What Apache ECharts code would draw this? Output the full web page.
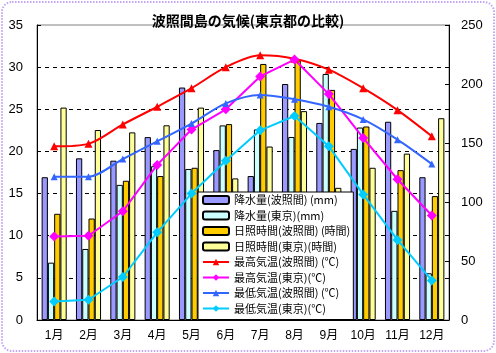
<!DOCTYPE html>
<html><head><meta charset="utf-8">
<script src="https://cdn.jsdelivr.net/npm/echarts@6/dist/echarts.min.js"></script>
<style>html,body{margin:0;padding:0;background:#fff}#c{width:496px;height:353px}</style>
</head><body><div id="c"></div>
<script>
var months = ['1月','2月','3月','4月','5月','6月','7月','8月','9月','10月','11月','12月'];
var rainHateruma = [121, 137, 135, 155, 197, 144, 122, 200, 167, 145, 168, 121];
var rainTokyo = [48.6, 60.2, 114.5, 130.3, 128.0, 164.9, 161.5, 155.1, 208.5, 163.1, 92.5, 39.6];
var sunHateruma = [90, 86, 118, 122, 129, 166, 217, 220, 195, 164, 127, 105];
var sunTokyo = [180, 161, 159, 165, 180, 120, 147, 177, 112, 129, 141, 171];
var maxHateruma = [20.6, 20.9, 23.2, 25.3, 27.5, 30.0, 31.4, 31.0, 29.7, 27.5, 24.9, 21.8];
var maxTokyo = [9.9, 10.0, 12.9, 18.4, 22.6, 25.0, 28.9, 30.9, 26.8, 21.6, 16.7, 12.4];
var minHateruma = [17.0, 17.0, 19.1, 21.2, 23.3, 25.7, 26.7, 26.2, 25.3, 23.8, 21.4, 18.5];
var minTokyo = [2.2, 2.4, 5.1, 10.4, 15.0, 18.9, 22.5, 24.2, 20.6, 14.9, 9.5, 4.7];
var leftTicks = [0, 35, 5];
var rightTicks = [0, 250, 50];

var FONT = '"Liberation Sans", "Noto Sans CJK JP", sans-serif';
var chart = echarts.init(document.getElementById('c'), null, {renderer: 'canvas'});
function bar(name, data, color) {
  return {name: name, type: 'bar', yAxisIndex: 1, data: data, barGap: '0%', barCategoryGap: '27%',
    itemStyle: {color: color, borderColor: '#000', borderWidth: 1}, z: 2};
}
function line(name, data, color, sym, size, smooth) {
  return {name: name, type: 'line', yAxisIndex: 0, data: data, smooth: smooth,
    symbol: sym, symbolSize: size, showAllSymbol: true,
    lineStyle: {color: color, width: 2}, itemStyle: {color: color}, z: 3};
}
chart.setOption({
  animation: false,
  backgroundColor: '#fff',
  textStyle: {fontFamily: FONT},
  title: {text: '波照間島の気候(東京都の比較)', left: 'center', top: 9,
    textStyle: {fontSize: 14, fontWeight: 'bold', color: '#000', fontFamily: '"Noto Sans CJK JP", sans-serif'}},
  graphic: [{type: 'rect', shape: {x: 2, y: 2, width: 492, height: 349, r: 10},
    style: {fill: 'none', stroke: '#c4a6f2', lineWidth: 2, lineDash: [1.5, 1.5]}, z: 10}],
  grid: {left: 37, right: 47, top: 25, bottom: 33, show: true, borderColor: '#808080', borderWidth: 1, backgroundColor: 'transparent'},
  legend: {orient: 'vertical', left: 198, top: 192, itemWidth: 26, itemHeight: 8, itemGap: 3.5,
    padding: [2, 3, 5, 4], backgroundColor: '#fff', borderColor: '#000', borderWidth: 1,
    textStyle: {fontSize: 11, color: '#000', lineHeight: 12, fontFamily: '"Noto Sans CJK JP", sans-serif'},
    data: ['降水量(波照間) (mm)','降水量(東京)(mm)','日照時間(波照間) (時間)','日照時間(東京)(時間)',
      '最高気温(波照間) (℃)','最高気温(東京)(℃)','最低気温(波照間) (℃)','最低気温(東京)(℃)']},
  xAxis: {type: 'category', data: months, boundaryGap: true,
    axisLine: {lineStyle: {color: '#000', width: 1}},
    axisTick: {inside: true, length: 4, lineStyle: {color: '#000'}},
    axisLabel: {color: '#000', fontSize: 12, margin: 10}},
  yAxis: [
    {type: 'value', min: leftTicks[0], max: leftTicks[1], interval: leftTicks[2], position: 'left',
      axisLine: {show: true, lineStyle: {color: '#000'}},
      axisTick: {show: true, inside: true, length: 4, lineStyle: {color: '#000'}},
      axisLabel: {color: '#000', fontSize: 13, margin: 14},
      splitLine: {show: true, showMinLine: false, showMaxLine: false, lineStyle: {color: '#000', type: [4, 4]}}},
    {type: 'value', min: rightTicks[0], max: rightTicks[1], interval: rightTicks[2], position: 'right',
      axisLine: {show: true, lineStyle: {color: '#000'}},
      axisTick: {show: true, inside: true, length: 4, lineStyle: {color: '#000'}},
      axisLabel: {color: '#000', fontSize: 13, margin: 12},
      splitLine: {show: false}}
  ],
  series: [
    bar('降水量(波照間) (mm)', rainHateruma, '#9999ff'),
    bar('降水量(東京)(mm)', rainTokyo, '#ccffff'),
    bar('日照時間(波照間) (時間)', sunHateruma, '#ffcc00'),
    bar('日照時間(東京)(時間)', sunTokyo, '#ffff99'),
    line('最高気温(波照間) (℃)', maxHateruma, '#ff0000', 'triangle', 8, 0.3),
    line('最高気温(東京)(℃)', maxTokyo, '#ff00ff', 'diamond', 10, false),
    line('最低気温(波照間) (℃)', minHateruma, '#3366ff', 'triangle', 7, 0.3),
    line('最低気温(東京)(℃)', minTokyo, '#00ccff', 'diamond', 10, false)
  ]
});
</script></body></html>
